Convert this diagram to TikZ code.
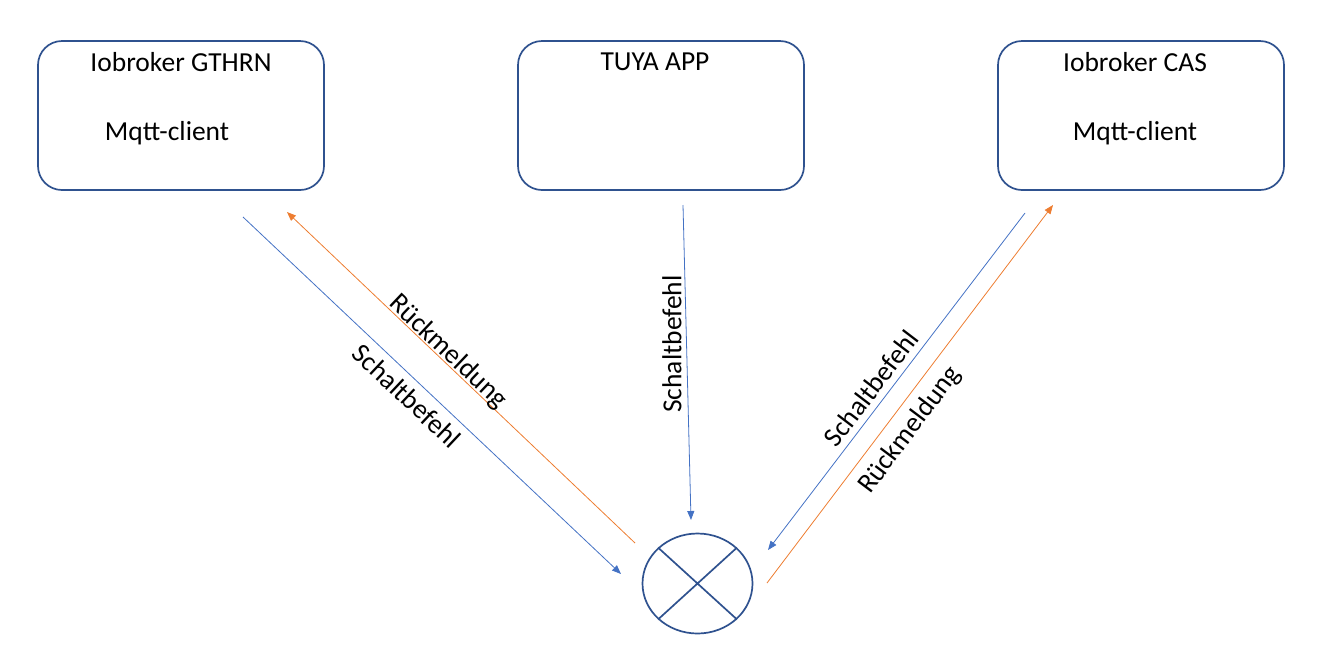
\documentclass[tikz,border=0pt]{standalone}
\usepackage{fontspec}
\setmainfont{Carlito}
\usetikzlibrary{arrows.meta,positioning,shapes.geometric}
\definecolor{BoxLine}{HTML}{2F528F}
\definecolor{CmdBlue}{HTML}{4472C4}
\definecolor{AckOrange}{HTML}{ED7D31}

\begin{document}
\begin{tikzpicture}[x=1pt,y=-1pt,
  every node/.style={font=\fontsize{27.5}{32}\selectfont},
  box/.style={draw=BoxLine, line width=1.7pt, rounded corners=24pt,
              minimum width=286pt, minimum height=149pt, inner sep=0pt},
  txt/.style={inner sep=0pt},
  cmd/.style={draw=CmdBlue, line width=0.8pt, -{Triangle[length=9pt,width=7pt]}},
  ack/.style={draw=AckOrange, line width=0.8pt, -{Triangle[length=9pt,width=7pt]}},
  >=Stealth]
  \useasboundingbox (0,0) rectangle (1324,657);
  % boxes
  \node[box] (gthrn) at (181,115.5) {};
  \node[box] (tuya)  at (661,115.5) {};
  \node[box] (cas)   at (1141,115.5) {};
  \node[txt] (gthrnT) at (181,62)  {Iobroker GTHRN};
  \node[txt] (gthrnM) at (167,133) {Mqtt-client};
  \node[txt] (tuyaT)  at (655,62)  {TUYA APP};
  \node[txt] (casT)   at (1135,62) {Iobroker CAS};
  \node[txt] (casM)   at (1135,133) {Mqtt-client};
  % switch
  \node[ellipse, draw=BoxLine, line width=1.7pt, minimum width=110pt,
        minimum height=100pt, inner sep=0pt] (sw) at (697.5,583.5) {};
  \draw[BoxLine, line width=1.7pt] (sw.north west) -- (sw.south east)
        (sw.north east) -- (sw.south west);
  % arrow ends
  \coordinate (lCa) at (243,217);  \coordinate (lCb) at (621,574);
  \coordinate (lAa) at (635,543);  \coordinate (lAb) at (287,212);
  \coordinate (mCa) at (683,205);  \coordinate (mCb) at (691,520);
  \coordinate (rCa) at (1025,213); \coordinate (rCb) at (768,550);
  \coordinate (rAa) at (767,583);  \coordinate (rAb) at (1053,205);
  \draw[cmd] (lCa) -- (lCb);
  \draw[ack] (lAa) -- (lAb);
  \draw[cmd] (mCa) -- (mCb);
  \draw[cmd] (rCa) -- (rCb);
  \draw[ack] (rAa) -- (rAb);
  % labels
  \node[txt, rotate=-43.5] (lAl) at (448,352) {Rückmeldung};
  \node[txt, rotate=-43.3] (lCl) at (407,396) {Schaltbefehl};
  \node[txt, rotate=90]    (mCl) at (672,344) {Schaltbefehl};
  \node[txt, rotate=52.7]  (rCl) at (871,388) {Schaltbefehl};
  \node[txt, rotate=53]    (rAl) at (910,430) {Rückmeldung};
\end{tikzpicture}
\end{document}
